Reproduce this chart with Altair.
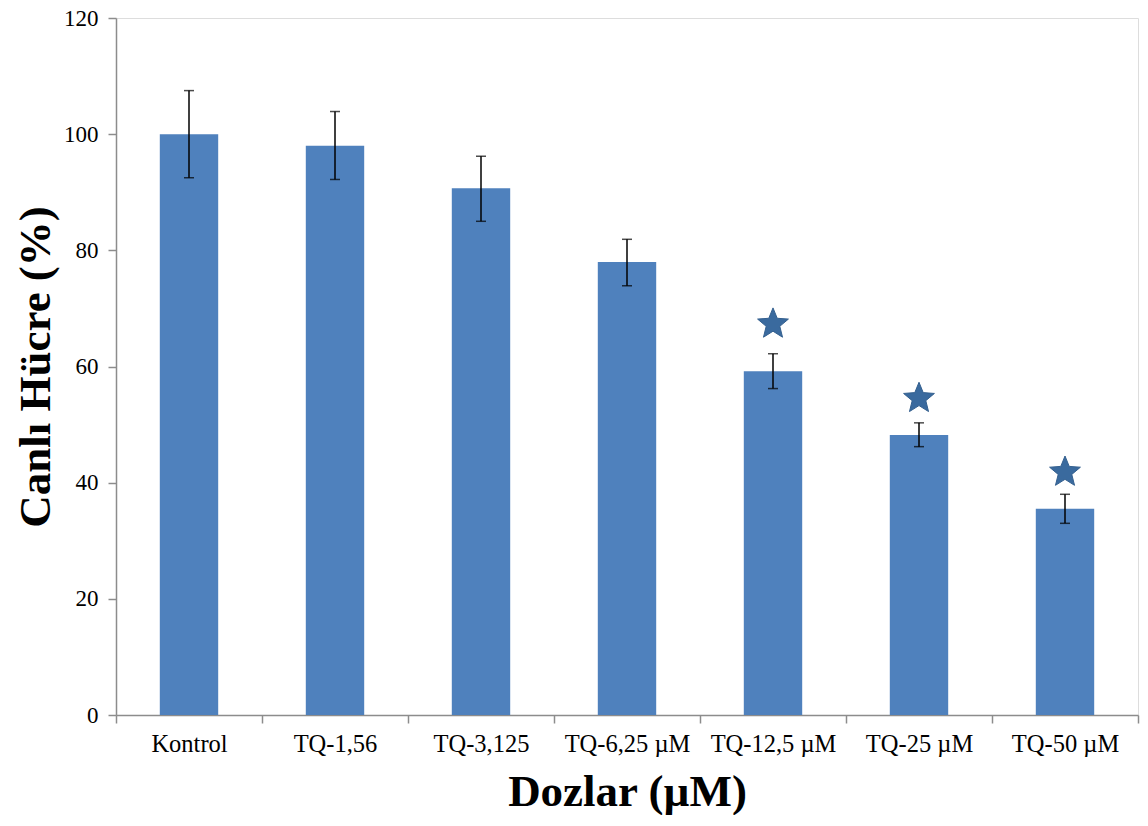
import altair as alt
import pandas as pd

categories = ["Kontrol", "TQ-1,56", "TQ-3,125", "TQ-6,25 µM", "TQ-12,5 µM", "TQ-25 µM", "TQ-50 µM"]
means = [100.0, 98.0, 90.7, 78.0, 59.2, 48.2, 35.5]
err_low = [92.5, 92.2, 85.0, 73.9, 56.2, 46.2, 33.0]
err_high = [107.5, 103.9, 96.2, 81.9, 62.2, 50.3, 38.0]
star_values = [None, None, None, None, 67.3, 54.5, 41.8]

df = pd.DataFrame({"cat": categories, "mean": means, "lo": err_low, "hi": err_high, "star": star_values})

font = "Liberation Serif"
xenc = alt.X(
    "cat:N",
    sort=categories,
    scale=alt.Scale(paddingInner=0, paddingOuter=0),
    axis=alt.Axis(
        title="Dozlar (µM)",
        orient="bottom",
        labelAngle=0,
        tickBand="extent",
        labelFont=font,
        labelFontSize=24.5,
        labelColor="black",
        labelPadding=9,
        titleFont=font,
        titleFontSize=45,
        titleFontWeight="bold",
        titleColor="black",
        titlePadding=14,
        domainColor="#8c8c8c",
        tickColor="#8c8c8c",
        tickSize=8,
        domainWidth=1.5,
        tickWidth=1.5,
    ),
)
yscale = alt.Scale(domain=[0, 120], nice=False)
yaxis = alt.Axis(
    title="Canlı Hücre (%)",
    orient="left",
    values=[0, 20, 40, 60, 80, 100, 120],
    grid=False,
    labelFont=font,
    labelFontSize=23,
    labelColor="black",
    labelPadding=10,
    titleFont=font,
    titleFontSize=45,
    titleFontWeight="bold",
    titleColor="black",
    titlePadding=5,
    domainColor="#8c8c8c",
    tickColor="#8c8c8c",
    tickSize=8,
    domainWidth=1.5,
    tickWidth=1.5,
)


def Y(field):
    return alt.Y(field, type="quantitative", scale=yscale, axis=yaxis)


STAR = "M0,-1L0.26,-0.36L0.951,-0.309L0.42,0.137L0.588,0.809L0,0.44L-0.588,0.809L-0.42,0.137L-0.951,-0.309L-0.26,-0.36Z"

base = alt.Chart(df).encode(x=xenc)
bars = base.mark_bar(color="#4F81BD", width=alt.RelativeBandSize(0.4)).encode(y=Y("mean"))
rules = base.mark_rule(color="black", strokeWidth=1.5).encode(y=Y("lo"), y2="hi")
cap_lo = base.mark_tick(color="black", size=10, thickness=1.5, orient="horizontal").encode(y=Y("lo"))
cap_hi = base.mark_tick(color="black", size=10, thickness=1.5, orient="horizontal").encode(y=Y("hi"))
star_marks = base.transform_filter("isValid(datum.star)").mark_point(
    shape=STAR, filled=True, size=1050, color="#3A6A9E", stroke="#34608F", strokeWidth=1, opacity=1
).encode(y=Y("star"))

chart = (
    alt.layer(bars, rules, cap_lo, cap_hi, star_marks)
    .properties(
        width=1022,
        height=697,
        autosize=alt.AutoSizeParams(type="none"),
        padding={"left": 108, "top": 10, "right": 2, "bottom": 100},
    )
    .configure_view(stroke=None)
    .configure(background="white")
)

chart.save("out.html", embed_options={"renderer": "svg", "actions": False})
